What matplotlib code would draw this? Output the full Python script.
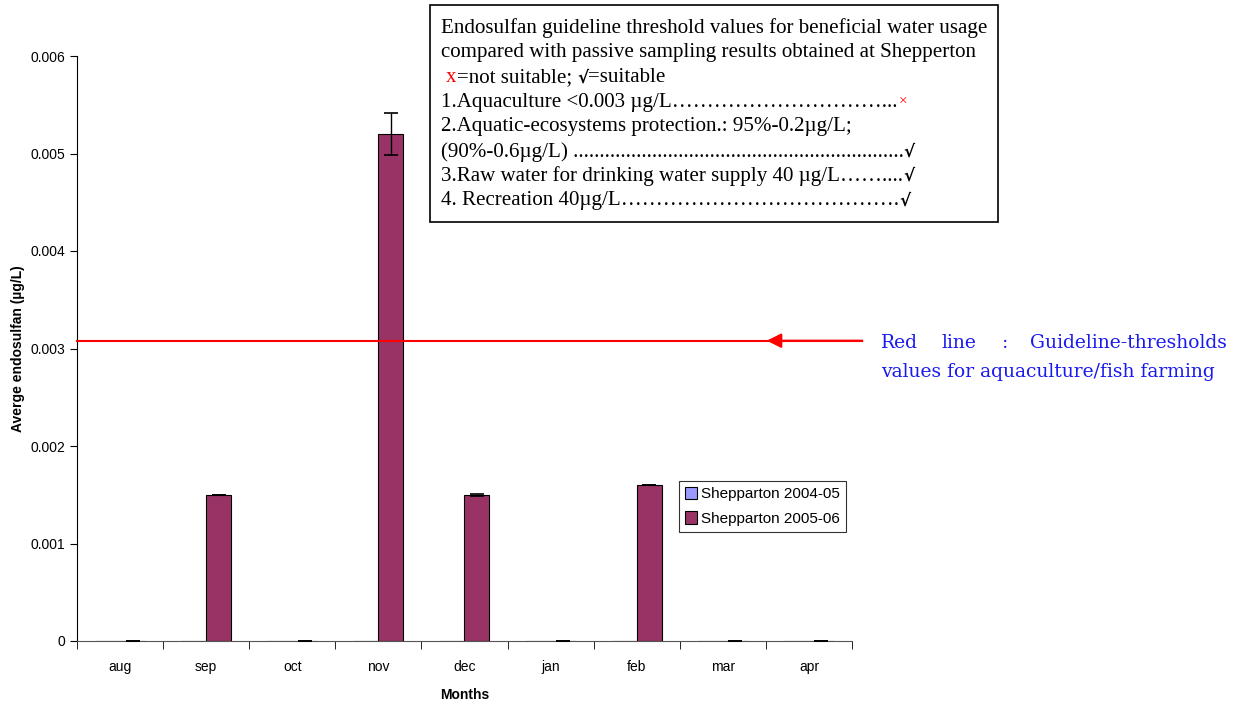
import numpy as np
import matplotlib.pyplot as plt

# Datos
meses = ["aug", "sep", "oct", "nov", "dec", "jan", "feb", "mar", "apr"]
shep_0405 = [0, 0, 0, 0, 0, 0, 0, 0, 0]
shep_0506 = [0, 0.0015, 0, 0.0052, 0.0015, 0, 0.0016, 0, 0]
err_0506 = [0, 0, 0, 0.00022, 0.00001, 0, 0.000005, 0, 0]
umbral = 0.00308

W, H = 1244, 703
fig = plt.figure(figsize=(W / 100, H / 100), dpi=100)
ax = fig.add_axes([77 / W, (H - 641) / H, 775 / W, (641 - 56) / H])
r = fig.canvas.get_renderer()

sans = "Liberation Sans"
serif = "Liberation Serif"

x = np.arange(len(meses))
ancho = 0.29
ax.bar(x - ancho / 2, shep_0405, ancho, color="#9999FF", edgecolor="black",
       linewidth=0.8, label="Shepparton 2004-05")
ax.bar(x + ancho / 2, shep_0506, ancho, color="#993366", edgecolor="black",
       linewidth=0.8, label="Shepparton 2005-06")
ax.errorbar(x + ancho / 2, shep_0506, yerr=err_0506, fmt="none", ecolor="black",
            elinewidth=1, capsize=5, capthick=1.2, zorder=4, clip_on=False)

ax.set_xlim(-0.5, len(meses) - 0.5)
ax.set_ylim(0, 0.006)
ax.set_yticks(np.arange(0, 0.0061, 0.001))
ax.set_yticklabels(["0", "0.001", "0.002", "0.003", "0.004", "0.005", "0.006"],
                   fontsize=10, family=sans)
ax.set_xticks(x)
ax.set_xticklabels(meses, fontsize=10, family=sans)
ax.set_xticks(np.arange(-0.5, len(meses)), minor=True)
ax.tick_params(axis="x", which="major", length=0, pad=14)
ax.tick_params(axis="x", which="minor", length=6, direction="out")
ax.tick_params(axis="y", length=5, direction="out")
for s in ["top", "right"]:
    ax.spines[s].set_visible(False)
ax.spines["bottom"].set_color("#555555")

ax.set_xlabel("Months", fontsize=10, fontweight="bold", family=sans, labelpad=10)
ax.set_ylabel("Averge endosulfan (µg/L)", fontsize=10, fontweight="bold",
              family=sans, labelpad=4)

# Línea roja de umbral + flecha
ax.plot([-0.5, 8.62], [umbral, umbral], color="red", lw=1.5, clip_on=False, zorder=5)
ax.annotate("", xy=(7.51, umbral), xytext=(8.62, umbral),
            arrowprops=dict(arrowstyle="-|>", color="red", lw=1.5,
                            mutation_scale=22, shrinkA=0, shrinkB=0),
            annotation_clip=False, zorder=6)

leg = ax.legend(loc="upper left", bbox_to_anchor=((679 - 77) / 775, (641 - 481) / 585),
                frameon=True, fancybox=False, edgecolor="black",
                prop={"family": sans, "size": 11}, handlelength=0.75,
                handleheight=0.85, handletextpad=0.3, borderpad=0.4,
                labelspacing=0.65, borderaxespad=0)
leg.get_frame().set_linewidth(0.8)

# Caja de texto
caja = plt.Rectangle((430 / W, 1 - 222 / H), (998 - 430) / W, (222 - 5) / H,
                     transform=fig.transFigure, fill=False, edgecolor="black", lw=1.2)
fig.patches.append(caja)

TAM = 15.1
CHECK = {"fontweight": "bold", "family": "DejaVu Sans", "fontsize": 12}

def ftxt(px, py, s, **kw):
    kw.setdefault("family", serif)
    kw.setdefault("fontsize", TAM)
    return fig.text(px / W, 1 - py / H, s, va="center", **kw)

def ancho_px(t):
    return t.get_window_extent(renderer=r).width

def fila(py, piezas, x0=441):
    px = x0
    for s, kw in piezas:
        t = ftxt(px, py, s, **kw)
        px += ancho_px(t)
    return px

def puntos(py, base, fin, x0=441, elipsis=True):
    # rellena con "…" y "." hasta llegar a la posición fin
    t = ftxt(x0, py, base)
    s = base
    if elipsis:
        while x0 + ancho_px(t) < fin - 25:
            s += "…"
            t.set_text(s)
    while x0 + ancho_px(t) < fin - 3:
        s += "."
        t.set_text(s)
    return x0 + ancho_px(t)

ftxt(441, 28, "Endosulfan guideline threshold values for beneficial water usage")
ftxt(441, 53, "compared with passive sampling results obtained at Shepperton")
fila(78, [(" ", {}), ("x", {"color": "red"}), ("=not suitable; ", {}),
          ("√", CHECK), ("=suitable", {})])
xe = puntos(102, "1.Aquaculture <0.003 µg/L", 897)
ftxt(xe + 1, 102, "×", color="red", fontsize=11)
ftxt(441, 127, "2.Aquatic-ecosystems protection.: 95%-0.2µg/L;")
xe = puntos(152, "(90%-0.6µg/L) ", 902, elipsis=False)
ftxt(xe, 152, "√", **CHECK)
xe = puntos(176, "3.Raw water for drinking water supply 40 µg/L", 902)
ftxt(xe, 176, "√", **CHECK)
xe = puntos(201, "4. Recreation 40µg/L", 902)
ftxt(xe, 201, "√", **CHECK)

# Texto azul
azul = "#1a1aee"
ftxt(881, 343, "Red", color=azul, fontsize=13.5, family="DejaVu Serif")
ftxt(941, 343, "line", color=azul, fontsize=13.5, family="DejaVu Serif")
ftxt(1002, 343, ":", color=azul, fontsize=13.5, family="DejaVu Serif")
ftxt(1227, 343, "Guideline-thresholds", color=azul, fontsize=13.5,
     family="DejaVu Serif", ha="right")
ftxt(881, 372, "values for aquaculture/fish farming", color=azul, fontsize=13.5,
     family="DejaVu Serif")

fig.savefig("out.png", dpi=100)
